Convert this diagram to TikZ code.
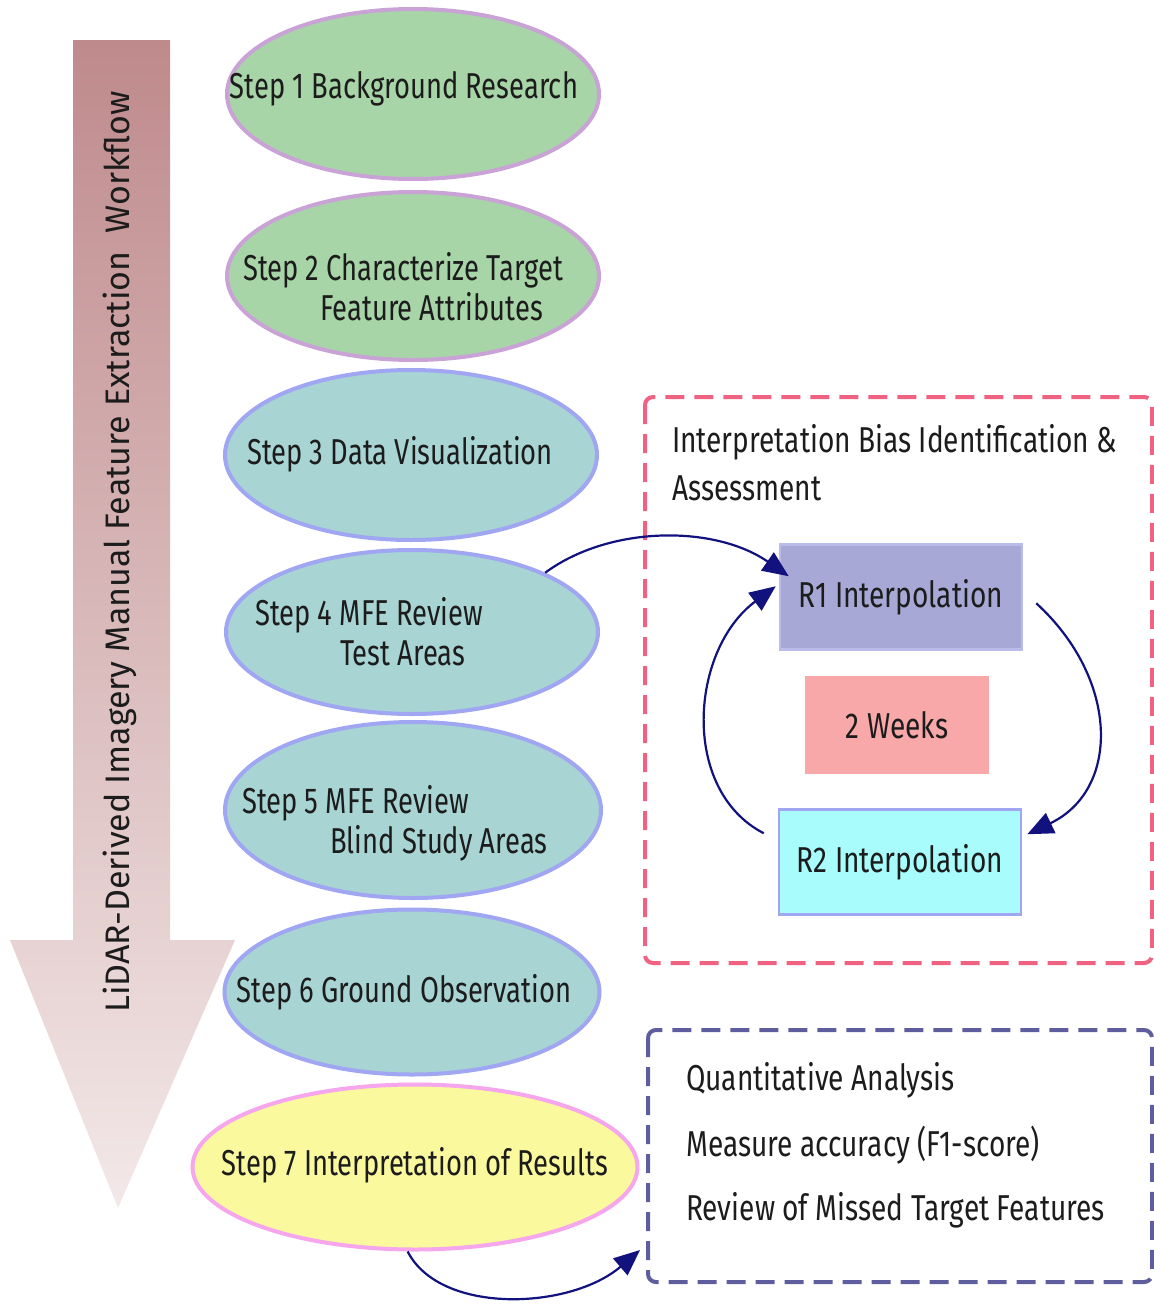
\documentclass[tikz,border=0pt]{standalone}
\usepackage{fontspec}
\setmainfont{Fira Sans}
\newfontfamily\stepfont{Fira Sans}[FakeStretch=0.76]
\newfontfamily\boxfont{Fira Sans}[FakeStretch=0.78]
\newfontfamily\sidefont{Fira Sans}[FakeStretch=1.0]
\usetikzlibrary{shapes.geometric,arrows.meta,calc}
\definecolor{greenfill}{HTML}{A8D5A8}
\definecolor{lilac}{HTML}{C9A2D6}
\definecolor{tealfill}{HTML}{A8D4D4}
\definecolor{peri}{HTML}{A0A6F2}
\definecolor{yellowfill}{HTML}{FAF99E}
\definecolor{pinkline}{HTML}{F5A6EC}
\definecolor{r1fill}{HTML}{A8A8D6}
\definecolor{r2fill}{HTML}{A8FCFC}
\definecolor{weekfill}{HTML}{F8A8A8}
\definecolor{redbox}{HTML}{EF6282}
\definecolor{bluebox}{HTML}{5E5E9E}
\definecolor{navy}{HTML}{12127E}
\definecolor{txt}{HTML}{1C1C1C}
\definecolor{arrtop}{HTML}{BF8A8C}
\definecolor{arrbot}{HTML}{F3E8E8}
\begin{document}
\begin{tikzpicture}[x=1pt,y=-1pt,
  stepshape/.style={ellipse, line width=4pt, minimum width=372pt, minimum height=170pt, inner sep=0pt},
  greenstep/.style={stepshape, fill=greenfill, draw=lilac},
  tealstep/.style={stepshape, fill=tealfill, draw=peri},
  steptext/.style={text=txt, font=\stepfont\fontsize{36}{40}\selectfont, inner sep=0pt, align=left},
  rbox/.style={rectangle, line width=2.5pt, minimum width=242pt, minimum height=105pt, text=txt, font=\boxfont\fontsize{36}{40}\selectfont},
  plaintext/.style={text=txt, font=\boxfont\fontsize{36}{48}\selectfont, inner sep=0pt, align=left},
  flow/.style={navy, line width=2.2pt, -{Triangle[length=26pt,width=22pt]}},
  dashbox/.style={line width=4pt, dash pattern=on 19pt off 10pt, rounded corners=8pt}
]
\useasboundingbox (0,0) rectangle (1154,1304);

% big workflow arrow
\shade[top color=arrtop, bottom color=arrbot]
  (73,40) -- (170,40) -- (170,940) -- (235,940) -- (118,1208) -- (10,940) -- (73,940) -- cycle;
\node[rotate=90, text=txt, font=\sidefont\fontsize{34}{40}\selectfont, inner sep=0pt] (title) at (120,552)
  {LiDAR-Derived Imagery Manual Feature Extraction\ \ Workflow};

% steps (shapes)
\node[greenstep] (s1) at (413,94) {};
\node[greenstep, minimum height=168pt] (s2) at (413,276) {};
\node[tealstep] (s3) at (411,455) {};
\node[tealstep, minimum height=164pt] (s4) at (412,632) {};
\node[tealstep, minimum height=176pt, minimum width=376pt] (s5) at (413,810) {};
\node[tealstep, minimum height=165pt, minimum width=375pt] (s6) at (412,992) {};
\node[stepshape, fill=yellowfill, draw=pinkline, minimum width=445pt, minimum height=165pt] (s7) at (415,1167) {};

% steps (texts)
\node[steptext] (t1) at (404,89) {Step 1 Background Research};
\node[steptext, anchor=west] (t2) at (243,287) {Step 2 Characterize Target\\\hspace*{77pt}Feature Attributes};
\node[steptext] (t3) at (400,454) {Step 3 Data Visualization};
\node[steptext, anchor=west] (t4) at (255,632) {Step 4 MFE Review\\\hspace*{85pt}Test Areas};
\node[steptext, anchor=west] (t5) at (242,823) {Step 5 MFE Review\\\hspace*{88pt}Blind Study Areas};
\node[steptext] (t6) at (404,992) {Step 6 Ground Observation};
\node[steptext] (t7) at (415,1165) {Step 7 Interpretation of Results};

% interpretation bias box
\draw[dashbox, redbox] (645,397) rectangle (1152,963);
\node[plaintext, anchor=north west] (bias) at (672,424) {Interpretation Bias Identification \&\\Assessment};
\node[rbox, fill=r1fill, draw=r1fill!85!blue!60] (r1) at (901,597) {R1 Interpolation};
\node[rbox, fill=weekfill, draw=weekfill, minimum width=182pt, minimum height=95pt] (wk) at (897,725) {2 Weeks};
\node[rbox, fill=r2fill, draw=peri] (r2) at (900,862) {R2 Interpolation};

% results box
\draw[dashbox, bluebox] (648,1030) rectangle (1152,1282);
\node[plaintext, anchor=west] (q1) at (686,1080) {Quantitative Analysis};
\node[plaintext, anchor=west] (q2) at (686,1145) {Measure accuracy (F1-score)};
\node[plaintext, anchor=west] (q3) at (686,1210) {Review of Missed Target Features};
\coordinate (qb) at (648,1250);

% connectors
\draw[flow] (s4.24) .. controls (610,525) and (715,525) .. ([xshift=10pt,yshift=-33pt]r1.north west);
\draw[flow] ([xshift=13pt,yshift=-60pt]r1.north east) .. controls (1120,680) and (1120,790) .. ([xshift=5pt,yshift=-26pt]r2.north east);
\draw[flow] ([xshift=-14pt,yshift=-25pt]r2.north west) .. controls (680,790) and (690,650) .. ([xshift=-3pt,yshift=-43pt]r1.north west);
\draw[flow] (s7.-95) .. controls (440,1315) and (570,1310) .. ([xshift=-8pt]qb);
\end{tikzpicture}
\end{document}
